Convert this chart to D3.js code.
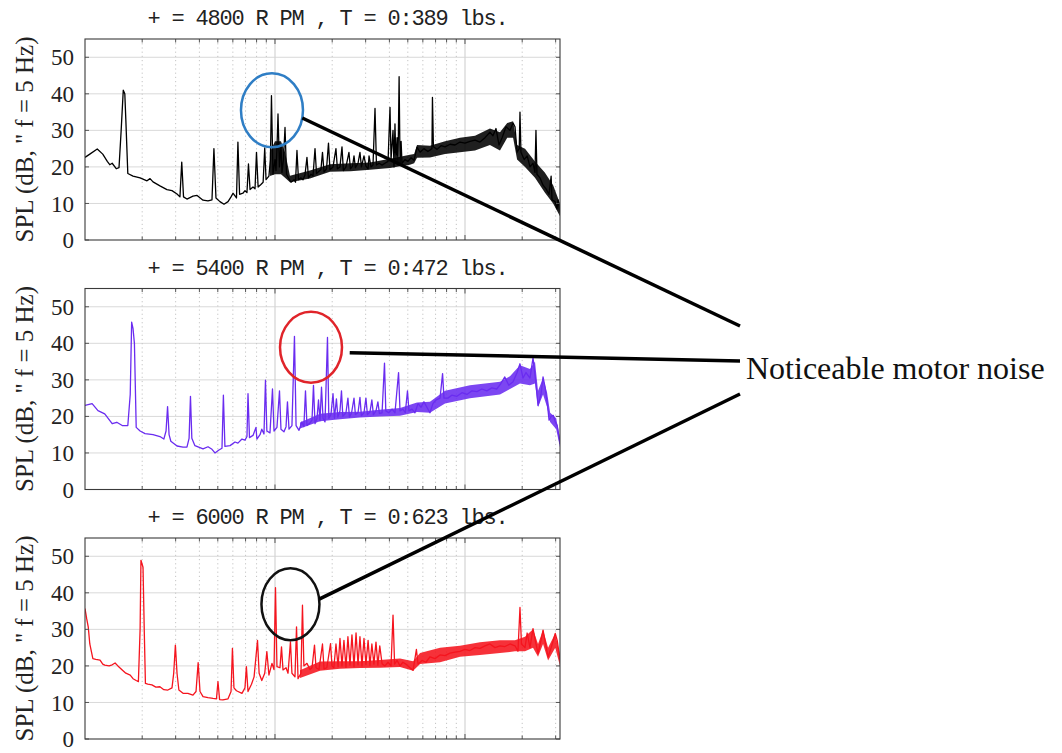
<!DOCTYPE html>
<html>
<head>
<meta charset="utf-8">
<script src="https://cdn.jsdelivr.net/npm/d3@7"></script>
<style>
  body { margin: 0; background: #fff; }
  svg { display: block; }
</style>
</head>
<body>
<svg id="chart" width="1062" height="753"></svg>
<script>
// ---- axis settings ----
const freqDomain = [100, 31623];          // Hz, log axis
const dbDomain = [0, 55];                 // SPL, dB
const dbTicks = [0, 10, 20, 30, 40, 50];
const decades = [100, 1000, 10000];
const minorSteps = [2, 3, 4, 5, 6, 7, 8, 9];

const titles = [
  "+ = 4800 R PM , T = 0:389 lbs.",
  "+ = 5400 R PM , T = 0:472 lbs.",
  "+ = 6000 R PM , T = 0:623 lbs."
];
const yLabel = 'SPL (dB, " f = 5 Hz)';
const seriesColors = ["#000000", "#6a2cf0", "#f5141e"];

// ---- spectra: [frequency Hz, SPL dB] ----
const spectrum4800 = [[100,22.6],[106,23.5],[116,24.9],[124,23.5],[131,21.5],[135,20.6],[139,21.0],[146,19.5],[151,19.8],[155,30],[159,41],[162,40],[164,33],[168,18.2],[179,17.5],[195,17],[212,16.2],[220,16.8],[228,15.9],[248,14.8],[270,13.8],[287,13.5],[305,12.6],[316,11.8],[323,21.3],[330,11.8],[344,11.2],[370,12.0],[389,12.2],[418,10.9],[444,10.7],[466,11.0],[477,25],[489,11.5],[513,10.5],[539,9.8],[566,10.5],[587,11.8],[601,12.8],[627,11.5],[638,26.8],[651,12.5],[678,12.8],[695,13.5],[712,13.0],[725,20.8],[739,13.8],[766,14.5],[785,14.0],[799,24],[815,14.5],[843,15.2],[866,15.8],[883,25.2],[897,16.5],[929,17.5],[946,22],[958,39.5],[976,18],[1000,22],[1012,19],[1024,25],[1037,34.5],[1056,20],[1075,26],[1088,18.5],[1108,22],[1129,30.8],[1150,18],[1171,17.2],[1214,15.8],[1261,16.5],[1282,15.8],[1305,24.5],[1329,16.5],[1370,17],[1404,16.5],[1438,17.8],[1473,22.6],[1500,17],[1547,18],[1585,17.5],[1624,25],[1654,18.2],[1704,18.8],[1745,19.3],[1778,24],[1811,18.6],[1867,19.5],[1912,26.5],[1947,19.2],[2020,20],[2093,25],[2130,19.5],[2198,20],[2252,25.5],[2290,19],[2363,20],[2450,24],[2495,19.5],[2560,20.2],[2605,23],[2650,19.8],[2735,21],[2800,24],[2850,20],[2940,23],[3010,20.2],[3090,19.5],[3125,23],[3200,20],[3280,20.5],[3360,36],[3420,20.5],[3530,21],[3660,20.5],[3790,21],[3935,21.5],[4030,36.3],[4080,22],[4180,30],[4230,20],[4280,31.8],[4330,21],[4390,28],[4440,20.5],[4500,44.7],[4550,21],[4610,27],[4660,21],[4830,22],[5010,21.5],[5200,22.5],[5390,21.8],[5590,25.4],[5800,24],[6080,25],[6380,24.2],[6700,25],[6740,39],[6820,25.5],[7130,24.8],[7480,25.8],[7850,25.5],[8340,26.2],[8860,26],[9410,26.8],[10000,26.5],[10620,27],[11290,27.3],[11990,26.8],[12740,28],[13530,29.5],[14030,28.5],[14560,30.5],[15100,26],[15680,28],[16440,31],[17250,30],[17910,32],[18330,31],[18800,24],[19300,25],[19470,35],[19700,24],[20480,22],[21240,23],[21980,20],[22800,21],[23350,18.5],[23630,30],[23920,18],[24810,17],[25750,15],[26700,14],[27700,12.5],[28400,17.5],[28700,11],[29800,10.5],[30500,8.5],[30900,11],[31620,7.5]];

const spectrum5400 = [[100,23],[109,23.5],[117,21.6],[127,20.7],[139,18],[147,18.4],[157,17.5],[168,17.5],[173,26],[176,45.8],[179,44],[182,40],[186,17],[195,16],[207,15.3],[228,15],[248,14.5],[260,13.8],[267,16],[272,22.7],[277,15],[283,13.2],[305,11.9],[328,11.6],[344,11.6],[353,14],[359,25.5],[365,14],[379,12],[418,11.1],[444,11.7],[466,11],[483,10],[507,10.8],[526,11.3],[535,25.8],[545,11.8],[580,12],[616,13],[638,12.7],[670,13.8],[695,13.5],[712,14.5],[721,26.2],[734,14.2],[766,14.8],[794,17],[803,13.8],[834,15],[852,16.5],[875,15.2],[891,29.9],[906,16],[941,15.5],[970,27.5],[988,16],[1024,17],[1056,27],[1075,16.5],[1115,15.8],[1143,17.2],[1163,24],[1185,16.5],[1228,17.5],[1266,41.9],[1291,17.5],[1338,16.2],[1385,18.5],[1419,17.2],[1447,27],[1473,17.5],[1528,18.2],[1566,19],[1594,28.5],[1624,18],[1664,19.5],[1694,24.5],[1725,18.8],[1757,28],[1790,19.5],[1833,18.5],[1889,41.6],[1920,19.5],[1970,20.5],[2020,26.2],[2056,19.5],[2105,24.8],[2142,19.8],[2198,21.5],[2238,27],[2275,20],[2363,21],[2420,25],[2465,19.8],[2530,21],[2605,25],[2650,20.5],[2735,21],[2800,25.2],[2850,20.2],[2940,21],[3010,25],[3065,20.5],[3160,21.2],[3235,24.5],[3295,20.5],[3400,21.5],[3480,24],[3545,20.8],[3660,21],[3770,34.6],[3830,21.5],[3970,21],[4130,22],[4280,21],[4470,32],[4550,21.5],[4710,22],[4850,21],[4980,27],[5070,21.5],[5260,22],[5450,21],[5660,23.5],[5870,22.5],[6080,24],[6300,22.5],[6540,21],[6780,23.5],[7040,24.5],[7390,25],[7620,31.7],[7750,25],[8130,25],[8520,25.8],[9070,25.5],[9640,26.5],[10240,26],[10880,27],[11560,26.8],[12270,27.5],[13030,27],[13830,27.8],[14690,27.5],[15440,29],[16200,30.8],[17000,28.5],[17910,29.5],[18800,32],[19470,34.4],[20200,30.5],[20950,32],[21980,30.5],[22800,36],[23630,29],[24230,23],[25110,26],[25750,30.8],[26390,28],[27050,24],[27700,19],[28420,20],[29140,20.3],[29850,18.5],[30570,17.5],[31330,14],[31620,12.5]];

const spectrum6000 = [[100,35.7],[102,33],[104,30.7],[106,26],[110,22],[114,21.8],[120,21.6],[124,20.5],[127,20.2],[134,20],[139,20.3],[144,20.8],[149,20],[157,18.9],[164,18],[173,17.5],[179,16.5],[186,16],[191,15.7],[195,30],[197,48.9],[202,47],[205,30],[208,15.2],[214,15],[225,14.8],[236,14.2],[248,14.3],[260,13.5],[273,13.4],[287,14],[293,18],[299,25.7],[305,18],[312,13.4],[328,12.5],[348,12.5],[370,12],[384,13],[394,20.9],[403,13],[418,11.6],[444,11.3],[472,11.1],[492,11],[501,15.7],[511,10.8],[532,10.7],[566,11],[587,13],[597,24.8],[608,14],[627,13.2],[670,12.5],[695,14],[707,19.8],[721,13],[752,15],[776,17],[809,27],[825,18],[852,16],[883,18],[906,23.9],[929,17.5],[964,20.7],[988,19],[1006,41.4],[1024,19.8],[1062,19.5],[1082,25.2],[1102,18.9],[1143,19.5],[1171,18],[1206,26.6],[1228,18],[1274,17],[1298,30.7],[1322,16.5],[1370,18],[1395,36.6],[1419,20],[1473,20.7],[1528,19],[1566,19.5],[1614,25.7],[1644,19.5],[1704,19],[1778,26],[1811,19.2],[1874,19.5],[1960,26.1],[1995,20],[2040,19.5],[2094,26],[2148,19.8],[2198,27.5],[2252,20],[2306,27],[2363,19.6],[2420,28],[2481,20.2],[2541,28.5],[2605,19.8],[2670,29],[2735,20.3],[2800,28],[2870,20],[2940,27.5],[3010,20.4],[3090,27],[3160,20.1],[3235,26],[3315,20.5],[3400,26.5],[3480,20.2],[3560,25.5],[3660,20.6],[3790,20],[3935,21],[4080,20],[4180,33.9],[4260,20.5],[4390,21.5],[4550,20],[4710,21],[4880,20.5],[5130,19.5],[5330,18.8],[5550,24.5],[5660,20.5],[5940,21.5],[6230,21],[6540,22.5],[6950,22],[7390,23],[7850,22.8],[8340,23.5],[8860,23.8],[9410,24],[10000,24.5],[10620,24.2],[11290,25],[11990,24.8],[12740,25.5],[13530,26],[14380,25],[15280,25.5],[16230,25.3],[17250,26],[18330,25.5],[19000,24],[19470,36],[19820,26],[20690,25],[21240,29],[21980,25],[22800,30.2],[23630,26],[24230,23.4],[25110,27],[25750,29.8],[26550,26],[27370,22.5],[28420,25],[29140,27],[29850,28.9],[30570,27],[31330,23],[31620,21.5]];

// ---- dense noise envelopes: [frequency Hz, low dB, high dB] ----
const noise4800 = [[940,17.5,24],[1000,18,27],[1075,18,27],[1129,17,24],[1199,15.8,17.6],[1528,16.8,19],[1947,18.7,20.7],[2495,18.8,21],[3160,19.2,21.2],[4030,19.7,22.2],[4550,20.2,22.8],[5130,20.6,23.3],[5400,21,23.5],[5590,22.5,26],[6540,22.6,25.8],[7850,23.5,27],[9410,24,28],[11290,24.5,28.5],[13530,26,30.5],[15280,24.5,29.5],[16680,28,32],[17910,28,32.5],[18800,22,26],[20700,20,25],[23350,17,21.5],[26300,13,18.5],[29100,10,15],[31620,6.5,10]];
const noise5400 = [[1354,16.7,18.3],[1725,18.7,20.7],[2198,19.2,21.2],[2800,19.7,21.3],[3560,20,21.8],[4550,20.2,22.3],[5590,21.2,23.8],[6540,21,24],[7850,23.5,27],[10620,25,28.5],[15280,26,29.5],[17250,27.5,31],[19470,29,34],[21980,28.5,33],[23350,29,35],[24230,22.5,27],[25750,26,30.5],[27050,22.5,26.5],[28060,18.5,21],[30200,16.5,19.5],[31620,11.5,14]];
const noise6000 = [[1354,16.7,18.8],[1725,18.7,21.2],[2198,19.2,21.3],[2800,19.4,21.3],[3560,19.5,21.6],[4550,19.7,22],[5330,18.7,21.3],[5800,20.5,23.5],[7390,21,25],[9410,22.5,25.5],[11990,23,26.5],[15280,23.5,27],[18330,24,27],[20690,24,28],[22800,25,30],[24230,22.5,26],[25750,26,29.8],[27370,21.5,25],[29850,25,28.9],[31620,20,23]];

// ---- callouts around the motor tones ----
const calloutText = "Noticeable motor noise";
const callouts = [
  { panel: 0, f: 964,  db: 35.5, rx: 31, ry: 37,   color: "#2f7ec5", angle: 12, gap: 0, end: [740, 326] },
  { panel: 1, f: 1547, db: 38.9, rx: 31, ry: 35.5, color: "#e0242a", angle: 7,  gap: 8, end: [740, 361] },
  { panel: 2, f: 1206, db: 36.9, rx: 29, ry: 36,   color: "#111111", angle: -8, gap: 0, end: [740, 394] }
];

// ---- layout ----
const plotLeft = 85, plotRight = 560, plotH = 201;
const panelTops = [39, 288.5, 538];

const svg = d3.select("#chart");
const defs = svg.append("defs");

const x = d3.scaleLog().domain(freqDomain).range([plotLeft, plotRight]);

const minorFreqs = [];
decades.forEach(d => minorSteps.forEach(s => {
  const f = d * s;
  if (f < freqDomain[1]) minorFreqs.push(f);
}));
const majorFreqs = decades.filter(f => f > freqDomain[0] && f < freqDomain[1]);

const panels = [
  { title: titles[0], trace: spectrum4800, noise: noise4800, color: seriesColors[0] },
  { title: titles[1], trace: spectrum5400, noise: noise5400, color: seriesColors[1] },
  { title: titles[2], trace: spectrum6000, noise: noise6000, color: seriesColors[2] }
];

const yScales = [];

panels.forEach((p, i) => {
  const top = panelTops[i], bottom = top + plotH;
  const y = d3.scaleLinear().domain(dbDomain).range([bottom, top]);
  yScales.push(y);
  const g = svg.append("g");

  defs.append("clipPath").attr("id", "clip" + i)
    .append("rect").attr("x", plotLeft).attr("y", top)
    .attr("width", plotRight - plotLeft).attr("height", plotH);

  // horizontal grid
  g.append("g").selectAll("line").data(dbTicks.filter(v => v > 0)).join("line")
    .attr("x1", plotLeft).attr("x2", plotRight)
    .attr("y1", d => y(d)).attr("y2", d => y(d))
    .attr("stroke", "#d9d9d9").attr("stroke-width", 1);

  // vertical minor grid (dotted)
  g.append("g").selectAll("line").data(minorFreqs).join("line")
    .attr("x1", d => x(d)).attr("x2", d => x(d))
    .attr("y1", top).attr("y2", bottom)
    .attr("stroke", "#c4c4c4").attr("stroke-width", 1)
    .attr("stroke-dasharray", "1.2,3");

  // vertical major grid
  g.append("g").selectAll("line").data(majorFreqs).join("line")
    .attr("x1", d => x(d)).attr("x2", d => x(d))
    .attr("y1", top).attr("y2", bottom)
    .attr("stroke", "#d4d4d4").attr("stroke-width", 1.2);

  // noise envelope and spectrum trace
  const area = d3.area().x(d => x(d[0])).y0(d => y(d[1])).y1(d => y(d[2]));
  g.append("path").datum(p.noise)
    .attr("clip-path", `url(#clip${i})`)
    .attr("d", area).attr("fill", p.color).attr("fill-opacity", 0.88);

  const line = d3.line().x(d => x(d[0])).y(d => y(d[1]));
  g.append("path").datum(p.trace)
    .attr("clip-path", `url(#clip${i})`)
    .attr("d", line).attr("fill", "none")
    .attr("stroke", p.color).attr("stroke-width", 1.3)
    .attr("stroke-linejoin", "round");

  // tick marks inside the box
  const tk = g.append("g").attr("stroke", "#555").attr("stroke-width", 1);
  const xt = minorFreqs.concat(majorFreqs);
  tk.selectAll(".tt").data(xt).join("line").attr("class", "tt")
    .attr("x1", d => x(d)).attr("x2", d => x(d))
    .attr("y1", top).attr("y2", d => top + (majorFreqs.includes(d) ? 5 : 3.5));
  tk.selectAll(".tb").data(xt).join("line").attr("class", "tb")
    .attr("x1", d => x(d)).attr("x2", d => x(d))
    .attr("y1", bottom).attr("y2", d => bottom - (majorFreqs.includes(d) ? 5 : 3.5));
  tk.selectAll(".tl").data(dbTicks).join("line").attr("class", "tl")
    .attr("x1", plotLeft).attr("x2", plotLeft + 4)
    .attr("y1", d => y(d)).attr("y2", d => y(d));
  tk.selectAll(".tr").data(dbTicks).join("line").attr("class", "tr")
    .attr("x1", plotRight).attr("x2", plotRight - 4)
    .attr("y1", d => y(d)).attr("y2", d => y(d));

  // frame
  g.append("rect").attr("x", plotLeft).attr("y", top)
    .attr("width", plotRight - plotLeft).attr("height", plotH)
    .attr("fill", "none").attr("stroke", "#3a3a3a").attr("stroke-width", 1.1);

  // y tick labels
  g.append("g").selectAll("text").data(dbTicks).join("text")
    .attr("x", 74).attr("y", d => y(d)).attr("dy", "0.35em")
    .attr("text-anchor", "end")
    .attr("font-family", "'Liberation Serif', 'Times New Roman', serif")
    .attr("font-size", 23).attr("fill", "#222")
    .text(d => d);

  // y label
  g.append("text")
    .attr("transform", `translate(33,${top + plotH / 2}) rotate(-90)`)
    .attr("text-anchor", "middle")
    .attr("font-family", "'Liberation Serif', 'Times New Roman', serif")
    .attr("font-size", 25).attr("fill", "#222")
    .text(yLabel);

  // title
  g.append("text")
    .attr("x", (plotLeft + plotRight) / 2 + 5).attr("y", top - 14)
    .attr("text-anchor", "middle")
    .attr("font-family", "'Liberation Mono', 'Courier New', monospace")
    .attr("font-size", 22).attr("letter-spacing", -1.2).attr("fill", "#222")
    .text(p.title);
});

// callout ellipses and leader lines
const ann = svg.append("g");
callouts.forEach(c => {
  const cx = x(c.f), cy = yScales[c.panel](c.db);
  ann.append("ellipse").attr("cx", cx).attr("cy", cy)
    .attr("rx", c.rx).attr("ry", c.ry)
    .attr("fill", "none").attr("stroke", c.color).attr("stroke-width", 2.5);
  const a = c.angle * Math.PI / 180;
  const sx = cx + (c.rx + c.gap) * Math.cos(a);
  const sy = cy + (c.ry + c.gap) * Math.sin(a);
  ann.append("line").attr("x1", sx).attr("y1", sy)
    .attr("x2", c.end[0]).attr("y2", c.end[1])
    .attr("stroke", "#000").attr("stroke-width", 3.5);
});

ann.append("text").attr("x", 746).attr("y", 379)
  .attr("font-family", "'Liberation Serif', 'Times New Roman', serif")
  .attr("font-size", 32).attr("fill", "#111")
  .text(calloutText);
</script>
</body>
</html>
